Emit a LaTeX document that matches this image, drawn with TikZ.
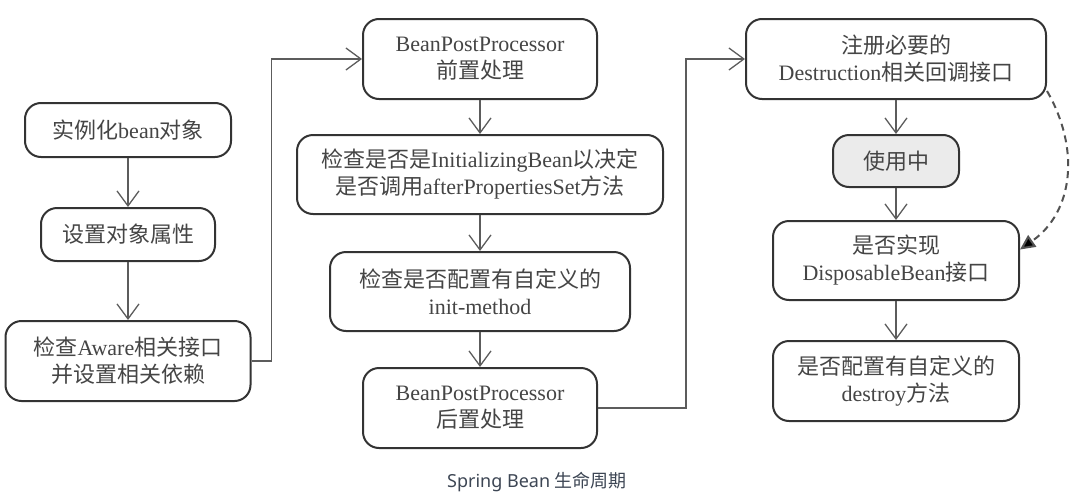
\documentclass[tikz,border=0pt]{standalone}
\usepackage{fontspec}
\setmainfont{Liberation Serif}
\newfontfamily\cjk{Noto Sans CJK SC}
\newfontfamily\capfont{Noto Sans}
\usetikzlibrary{arrows.meta,positioning}
\definecolor{boxline}{HTML}{333333}
\definecolor{txt}{HTML}{454545}
\definecolor{usefill}{HTML}{EBEBEB}
\definecolor{captxt}{HTML}{3D4654}

\begin{document}
\begin{tikzpicture}[
    x=1pt, y=-1pt,
    box/.style={rectangle, rounded corners=16pt, draw=boxline, line width=2pt, fill=white, text=txt, minimum height=80pt, inner sep=0pt, align=center, font=\fontsize{22}{27}\selectfont},
    arrow/.style={-{Straight Barb[length=15pt,width=22pt]}, line width=1.3pt, draw=boxline!80},
    dasharrow/.style={-{Triangle[length=15pt,width=14pt,fill=black]}, dash pattern=on 7pt off 5pt, line width=2pt, draw=boxline!85}
]
    \useasboundingbox (0,0) rectangle (1073,498);
    % left column
    \node[box, minimum width=206pt, minimum height=54pt] (inst) at (128,130) {{\cjk 实例化}bean{\cjk 对象}};
    \node[box, minimum width=174pt, minimum height=53pt, below=49pt of inst] (props) {{\cjk 设置对象属性}};
    \node[box, minimum width=245pt, below=58pt of props] (aware) {{\cjk 检查}Aware{\cjk 相关接口}\\{\cjk 并设置相关依赖}};
    % middle column
    \node[box, minimum width=234pt] (before) at (480,59) {BeanPostProcessor\\{\cjk 前置处理}};
    \node[box, minimum width=366pt, minimum height=79pt, below=34pt of before] (initbean) {{\cjk 检查是否是}InitializingBean{\cjk 以决定}\\{\cjk 是否调用}afterPropertiesSet{\cjk 方法}};
    \node[box, minimum width=300pt, minimum height=79pt, below=36pt of initbean] (initmeth) {{\cjk 检查是否配置有自定义的}\\init-method};
    \node[box, minimum width=234pt, below=35pt of initmeth] (after) {BeanPostProcessor\\{\cjk 后置处理}};
    % right column
    \node[box, minimum width=300pt] (destr) at (896,59) {{\cjk 注册必要的}\\Destruction{\cjk 相关回调接口}};
    \node[box, fill=usefill, minimum width=126pt, minimum height=52pt, below=34pt of destr] (inuse) {{\cjk 使用中}};
    \node[box, minimum width=246pt, minimum height=79pt, below=32pt of inuse] (disp) {{\cjk 是否实现}\\DisposableBean{\cjk 接口}};
    \node[box, minimum width=246pt, below=39pt of disp] (destroy) {{\cjk 是否配置有自定义的}\\destroy{\cjk 方法}};

    \node[font=\capfont\fontsize{18}{20}\selectfont, text=captxt] (caption) at (537,482) {Spring Bean {\cjk 生命周期}};

    \draw[arrow] (inst) -- (props);
    \draw[arrow] (props) -- (aware);
    \draw[arrow] (aware.east) -- ++(20,0) |- (before.west);
    \draw[arrow] (before) -- (initbean);
    \draw[arrow] (initbean) -- (initmeth);
    \draw[arrow] (initmeth) -- (after);
    \draw[arrow] (after.east) -- ++(88,0) |- (destr.west);
    \draw[arrow] (destr) -- (inuse);
    \draw[arrow] (inuse) -- (disp);
    \draw[arrow] (disp) -- (destroy);
    % dashed shortcut
    \draw[dasharrow] ([yshift=9pt]destr.south east) to[out=-60, in=35, looseness=1.05] ([yshift=11pt]disp.east);
\end{tikzpicture}
\end{document}
